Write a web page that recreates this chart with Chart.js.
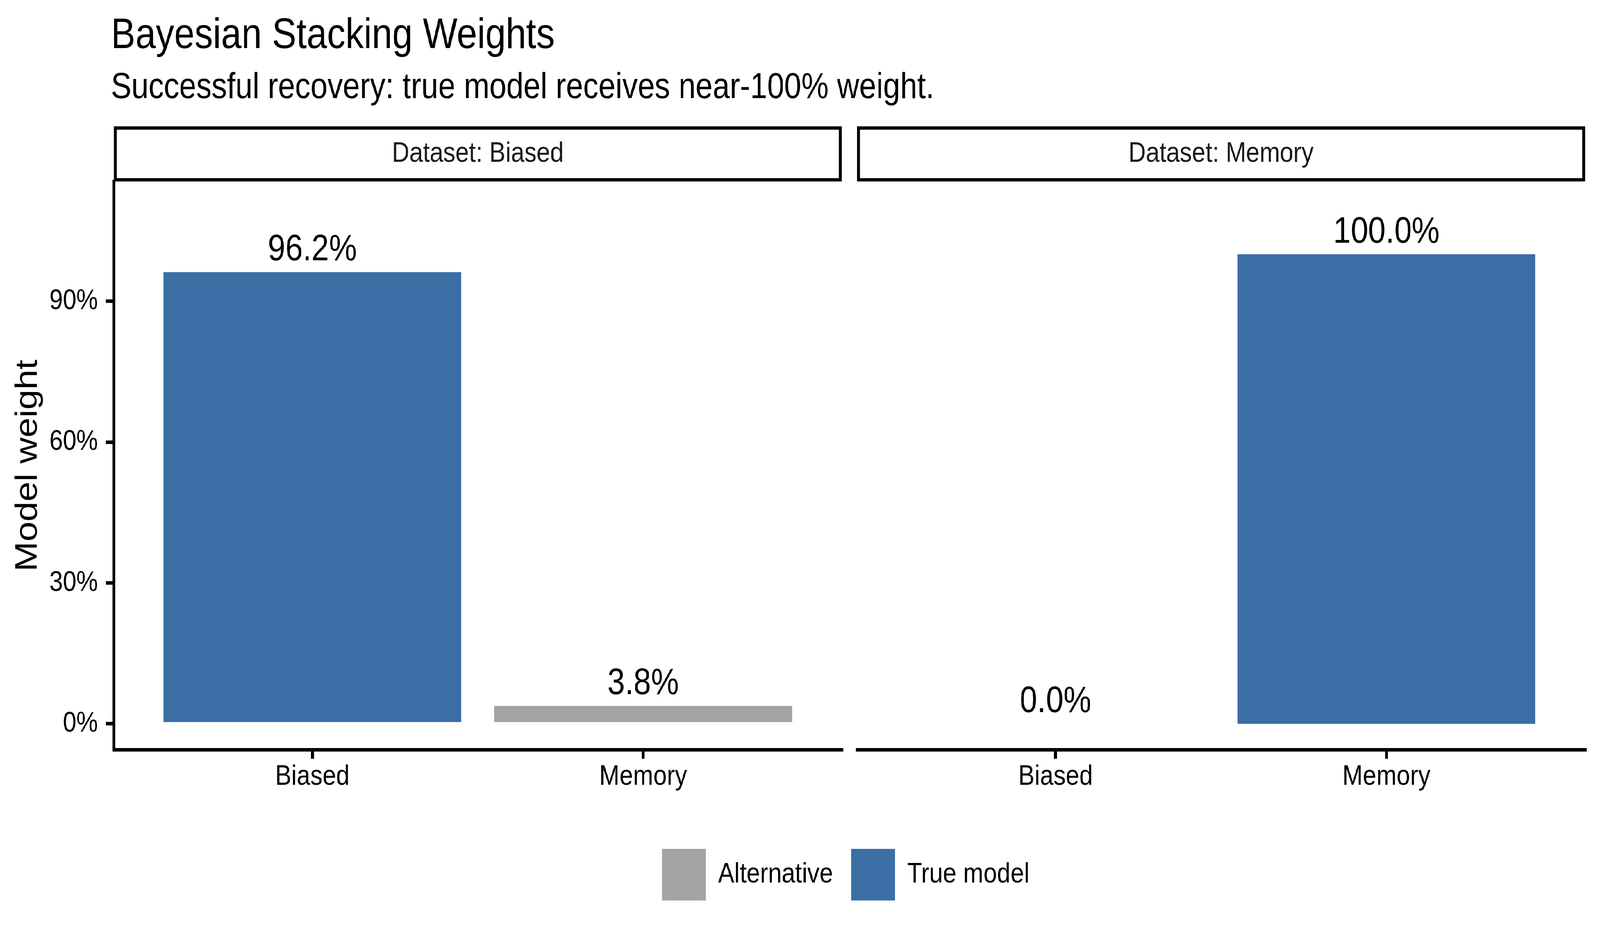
<!DOCTYPE html>
<html><head><meta charset="utf-8">
<script src="https://cdn.jsdelivr.net/npm/chart.js@4.4.1/dist/chart.umd.min.js"></script>
<style>
html,body{margin:0;padding:0;background:#fff;overflow:hidden}
#wrap{position:absolute;left:0;top:0;width:4800px;height:2400px;transform-origin:0 0;background:#fff}
#wrap canvas{position:absolute;left:0;top:0;width:4800px;height:2400px}
</style></head><body>
<div id="wrap">
<canvas id="bg" width="4800" height="2400"></canvas>
<canvas id="p1" width="4800" height="2400"></canvas>
<canvas id="p2" width="4800" height="2400"></canvas>
</div>
<script>
// ---- data ----
const panels = ['Biased', 'Memory'];          // facet: dataset
const models = ['Biased', 'Memory'];          // x categories: candidate model
const weightsBiasedData = [96.2, 3.8];        // % weight, Dataset: Biased
const weightsMemoryData = [0.0, 100.0];       // % weight, Dataset: Memory
const seriesNames = ['Alternative', 'True model'];
const seriesColors = ['#A3A3A3', '#3A6EA5'];
const yTicks = [0, 30, 60, 90];

// the figure is laid out on a 4800x2400 frame and fitted to the window
const W = 4800, H = 2400;
document.getElementById('wrap').style.transform =
  'scale(' + (window.innerWidth / W) + ',' + (window.innerHeight / H) + ')';

Chart.defaults.font.family = '"Liberation Sans", Arial, Helvetica, sans-serif';
Chart.defaults.color = '#000';

const stripBox = {
  id: 'stripBox',
  afterDraw(chart, args, opts) {
    const t = chart.titleBlock; if (!t) return;
    const ctx = chart.ctx, lw = opts.lineWidth;
    ctx.save();
    ctx.strokeStyle = opts.color; ctx.lineWidth = lw;
    ctx.strokeRect(t.left + lw / 2, t.top + lw / 2, t.width - lw, t.height - lw);
    ctx.restore();
  }
};

const barLabels = {
  id: 'barLabels',
  afterDatasetsDraw(chart, args, opts) {
    const ctx = chart.ctx;
    ctx.save();
    ctx.font = opts.size + 'px ' + Chart.defaults.font.family;
    ctx.fillStyle = '#000'; ctx.textAlign = 'center'; ctx.textBaseline = 'alphabetic';
    chart.data.datasets.forEach((ds, di) => {
      const meta = chart.getDatasetMeta(di);
      meta.data.forEach((el, i) => {
        const v = ds.data[i].y;
        if (v === null || v === undefined) return;
        ctx.fillText(v.toFixed(1) + '%', el.x, el.y - opts.offset);
      });
    });
    ctx.restore();
  }
};

function axisGrid() {
  return {display: true, drawOnChartArea: false, drawTicks: true, tickLength: 23.5,
          tickWidth: 9, tickColor: '#000', lineWidth: 9, color: '#000', offset: false};
}

function panelConfig(panelName, weights, showY, padding) {
  return {
    type: 'bar',
    data: {
      datasets: seriesNames.map((name, s) => ({
        label: name,
        data: models.map((m, i) => ({x: i + 1, y: ((m === panelName) === (s === 1)) ? weights[i] : null})),
        backgroundColor: seriesColors[s], borderColor: seriesColors[s], borderWidth: 0,
        categoryPercentage: 1, barPercentage: 0.9
      }))
    },
    options: {
      responsive: false, animation: false, devicePixelRatio: 1,
      layout: {padding},
      plugins: {
        legend: {display: false}, tooltip: {enabled: false},
        title: {display: true, text: 'Dataset: ' + panelName, fullSize: false, color: '#1A1A1A',
                font: {size: 73, weight: 'normal'}, padding: {top: 26.7, bottom: 26.7}},
        stripBox: {color: '#000', lineWidth: 8.5},
        barLabels: {offset: 30, size: 94}
      },
      scales: {
        x: {
          type: 'linear', min: 0.4, max: 2.6, offset: false, stacked: true,
          afterBuildTicks: s => { s.ticks = models.map((m, i) => ({value: i + 1})); },
          afterFit: s => { s.height = 150; },
          grid: axisGrid(),
          border: {display: true, color: '#000', width: 9},
          ticks: {callback: (v, i) => models[i], font: {size: 73}, color: '#000', padding: 3,
                  autoSkip: false, maxRotation: 0, minRotation: 0}
        },
        y: {
          display: showY, min: -5.5, max: 115.5, stacked: true,
          afterBuildTicks: s => { s.ticks = yTicks.map(v => ({value: v})); },
          afterFit: s => { s.width = showY ? 341.5 : 0; },
          grid: axisGrid(),
          border: {display: true, color: '#000', width: 9},
          ticks: {callback: v => v + '%', font: {size: 73}, color: '#000', padding: 24},
          title: {display: true, text: 'Model weight', font: {size: 92}, color: '#000',
                  padding: {top: 29, bottom: 0}}
        }
      }
    },
    plugins: [stripBox, barLabels]
  };
}

// background: title, subtitle, legend
new Chart(document.getElementById('bg'), {
  type: 'bar',
  data: {labels: [], datasets: seriesNames.map((n, s) => ({label: n, data: [],
          backgroundColor: seriesColors[s], borderColor: seriesColors[s], borderWidth: 0}))},
  options: {
    responsive: false, animation: false, devicePixelRatio: 1,
    layout: {padding: {left: 333, right: 59, top: 0, bottom: 86}},
    scales: {x: {display: false}, y: {display: false}},
    plugins: {
      tooltip: {enabled: false},
      title: {display: true, text: 'Bayesian Stacking Weights', align: 'start', color: '#000',
              font: {size: 110, weight: 'normal'}, padding: {top: 27, bottom: 0}},
      subtitle: {display: true, text: 'Successful recovery: true model receives near-100% weight.',
                 align: 'start', color: '#000', font: {size: 92, weight: 'normal'},
                 padding: {top: 11.6, bottom: 0}},
      legend: {position: 'bottom', labels: {boxWidth: 132, boxHeight: 132, padding: 54,
               font: {size: 73}, color: '#000'}}
    }
  }
});

new Chart(document.getElementById('p1'),
  panelConfig(panels[0], weightsBiasedData, true, {left: 0, right: 2275, top: 323.3, bottom: 332}));
new Chart(document.getElementById('p2'),
  panelConfig(panels[1], weightsMemoryData, false, {left: 2571, right: 45, top: 323.3, bottom: 332}));
</script></body></html>
